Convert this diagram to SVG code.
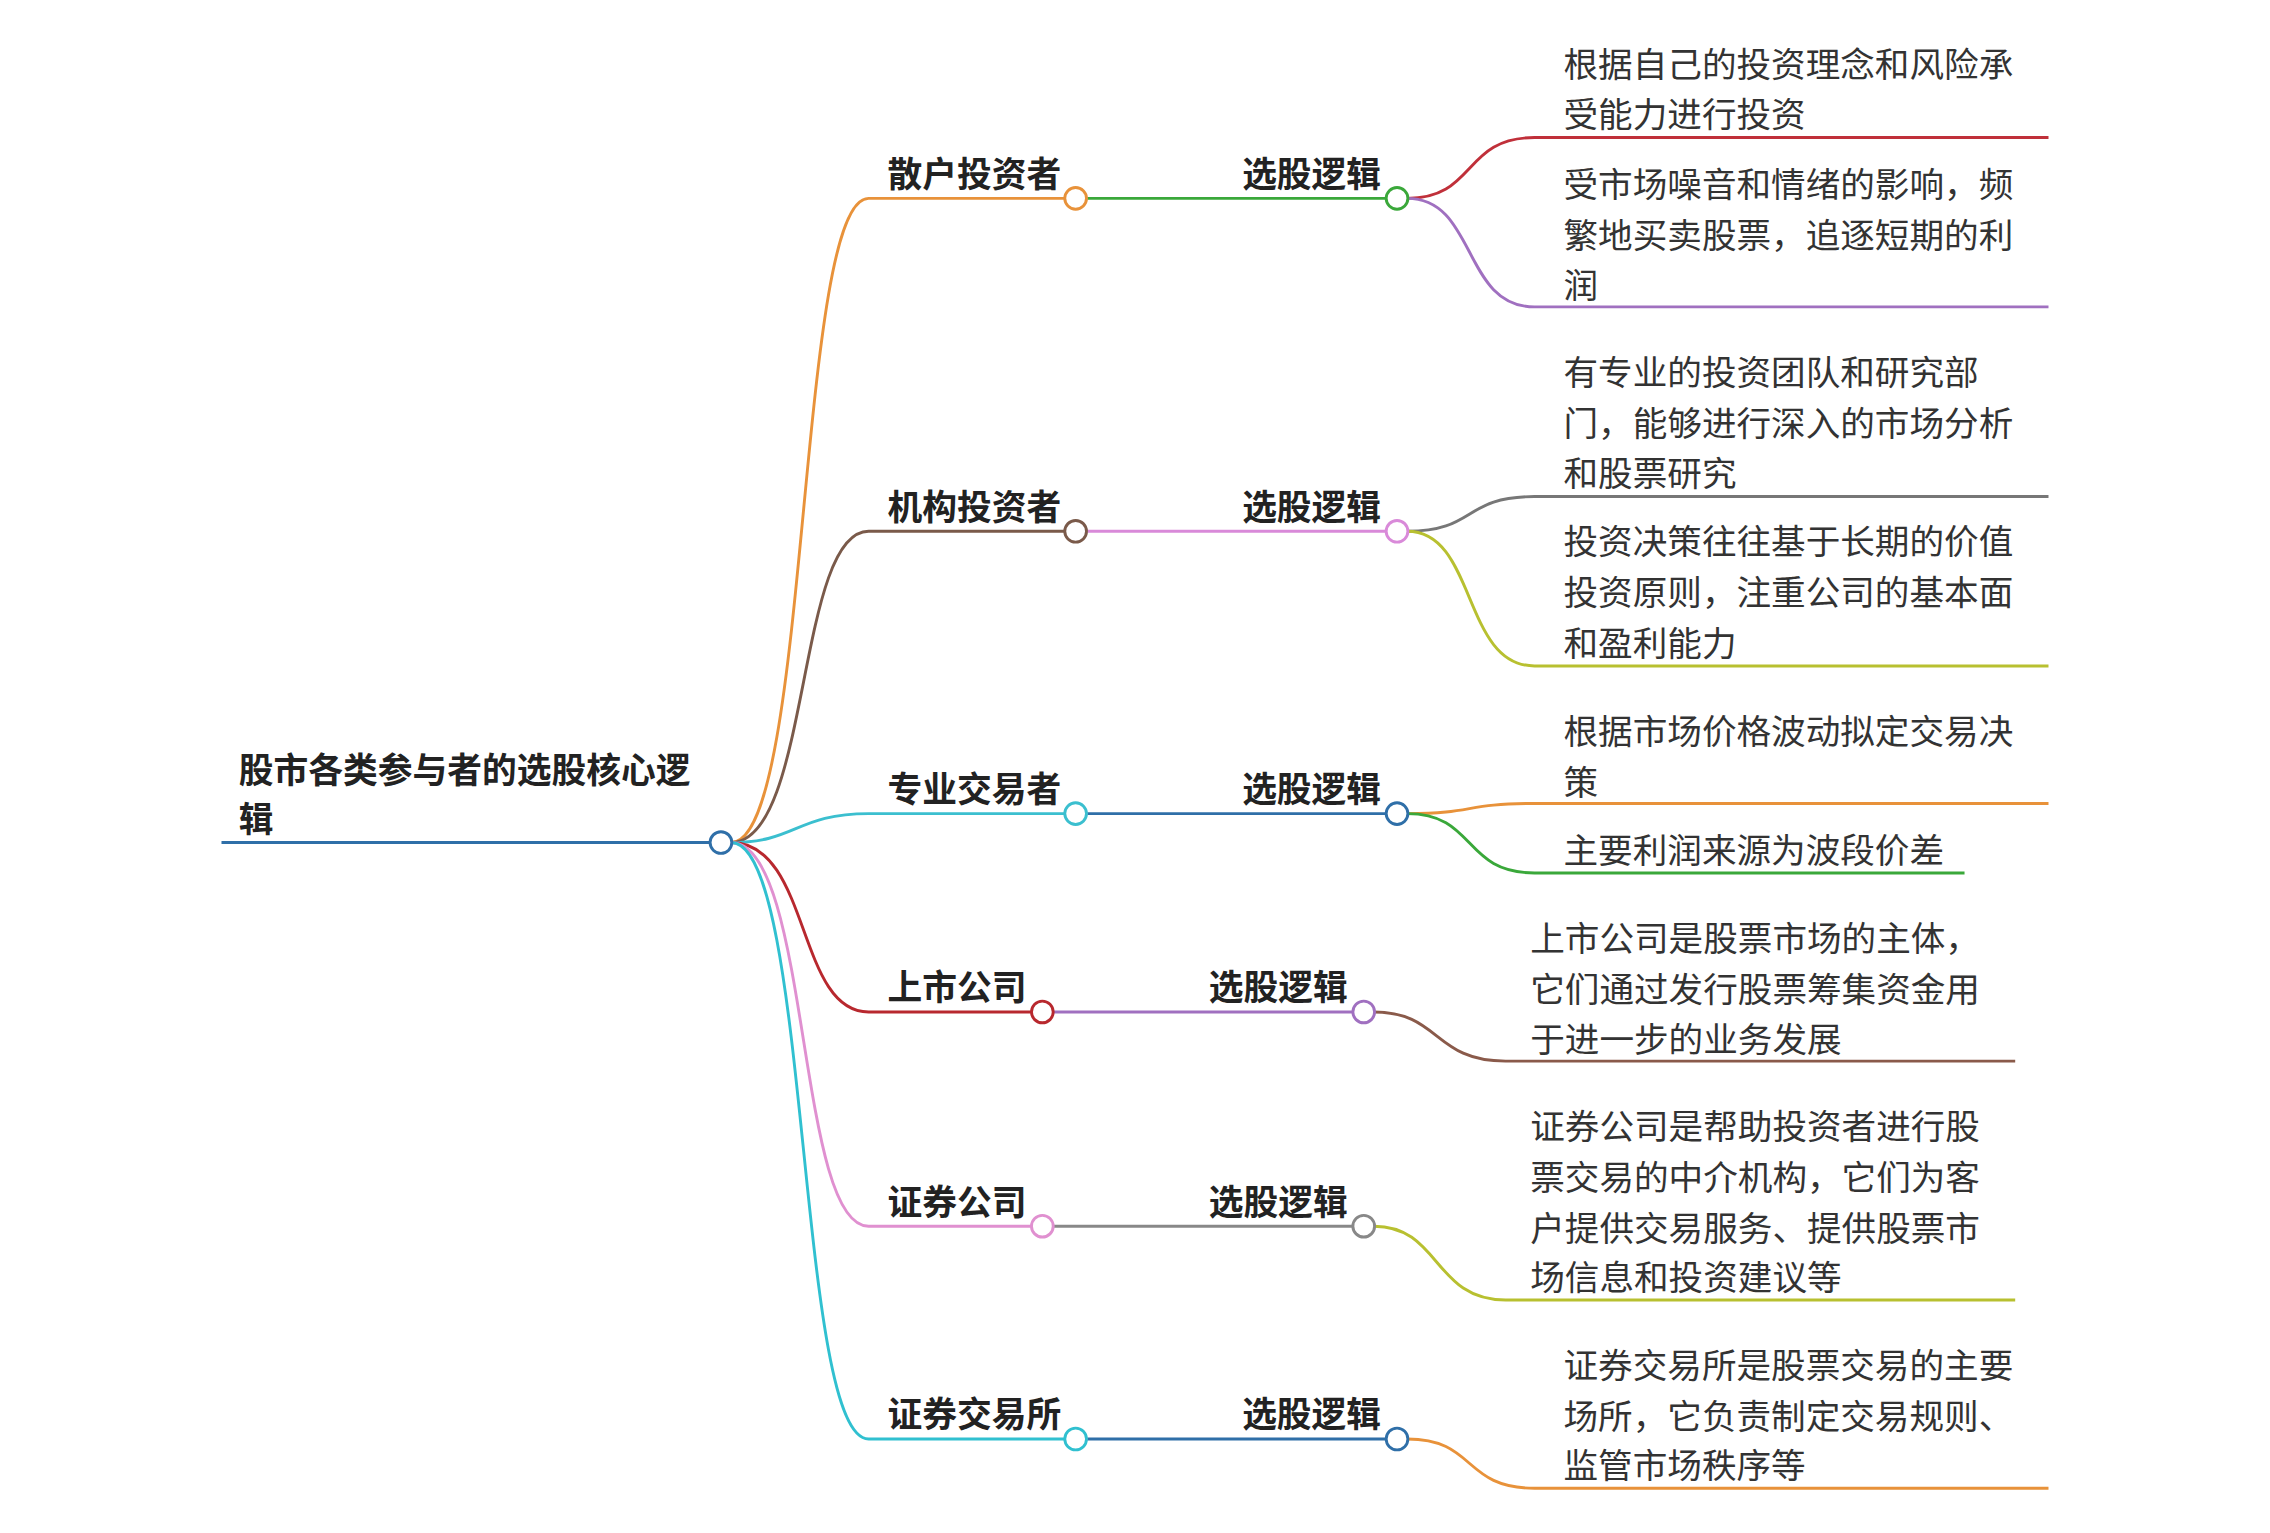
<svg xmlns="http://www.w3.org/2000/svg" width="2270" height="1533" viewBox="0 0 2270 1533">
<style>
text{font-family:"Noto Sans CJK SC","Noto Sans",sans-serif;fill:#222}
.b{font-weight:bold;font-size:24px}
.t{font-size:23.9px;fill:#333}
path,line{fill:none;stroke-width:2}
circle{fill:#fff;stroke-width:2}
</style>
<rect width="2270" height="1533" fill="#fff"/>
<g transform="scale(1.4477)">
<g id="connectors">
<line x1="153" y1="582" x2="491" y2="582" stroke="#2f6fa8"/>
<path d="M505,582 C560,582 550,137 600,137 H736" stroke="#e8923a"/>
<path d="M505,582 C560,582 550,367 600,367 H736" stroke="#7a5a4a"/>
<path d="M505,582 C550,582 550,562 600,562 H736" stroke="#3bbfcf"/>
<path d="M505,582 C560,582 550,699 600,699 H713" stroke="#b8282e"/>
<path d="M505,582 C560,582 550,847 600,847 H713" stroke="#e090d0"/>
<path d="M505,582 C560,582 550,994 600,994 H736" stroke="#30c0d0"/>
<line x1="751" y1="137" x2="958" y2="137" stroke="#3aa83a"/>
<line x1="751" y1="367" x2="958" y2="367" stroke="#d98ad9"/>
<line x1="751" y1="562" x2="958" y2="562" stroke="#2f6fa8"/>
<line x1="728" y1="699" x2="935" y2="699" stroke="#a070c0"/>
<line x1="728" y1="847" x2="935" y2="847" stroke="#888"/>
<line x1="751" y1="994" x2="958" y2="994" stroke="#2f6fa8"/>
<path d="M972,137 C1020,137 1010,95 1060,95 H1415" stroke="#c0303a"/>
<path d="M972,137 C1020,137 1010,212 1060,212 H1415" stroke="#a070c0"/>
<path d="M972,367 C1020,367 1010,343 1060,343 H1415" stroke="#777"/>
<path d="M972,367 C1020,367 1010,460 1060,460 H1415" stroke="#b8c030"/>
<path d="M972,562 C1020,562 1010,555 1060,555 H1415" stroke="#e8923a"/>
<path d="M972,562 C1020,562 1010,603 1060,603 H1357" stroke="#3aa83a"/>
<path d="M949,699 C995,699 990,733 1040,733 H1392" stroke="#8a5a4a"/>
<path d="M949,847 C995,847 990,898 1040,898 H1392" stroke="#b8c030"/>
<path d="M972,994 C1020,994 1010,1028 1060,1028 H1415" stroke="#e8923a"/>
</g>
<g id="root"><circle cx="498" cy="582" r="7.5" stroke="#2f6fa8"/>
<text class="b" x="165" y="541">股市各类参与者的选股核心逻</text><text class="b" x="165" y="575">辑</text></g>
<g id="n1"><circle cx="743" cy="137" r="7.5" stroke="#e8923a"/><text class="b" x="613" y="129">散户投资者</text></g>
<g id="n2"><circle cx="743" cy="367" r="7.5" stroke="#7a5a4a"/><text class="b" x="613" y="359">机构投资者</text></g>
<g id="n3"><circle cx="743" cy="562" r="7.5" stroke="#3bbfcf"/><text class="b" x="613" y="554">专业交易者</text></g>
<g id="n4"><circle cx="720" cy="699" r="7.5" stroke="#b8282e"/><text class="b" x="613" y="691">上市公司</text></g>
<g id="n5"><circle cx="720" cy="847" r="7.5" stroke="#e090d0"/><text class="b" x="613" y="839">证券公司</text></g>
<g id="n6"><circle cx="743" cy="994" r="7.5" stroke="#30c0d0"/><text class="b" x="613" y="986">证券交易所</text></g>
<g id="l1"><circle cx="965" cy="137" r="7.5" stroke="#3aa83a"/><text class="b" x="858" y="129">选股逻辑</text></g>
<g id="l2"><circle cx="965" cy="367" r="7.5" stroke="#d98ad9"/><text class="b" x="858" y="359">选股逻辑</text></g>
<g id="l3"><circle cx="965" cy="562" r="7.5" stroke="#2f6fa8"/><text class="b" x="858" y="554">选股逻辑</text></g>
<g id="l4"><circle cx="942" cy="699" r="7.5" stroke="#a070c0"/><text class="b" x="835" y="691">选股逻辑</text></g>
<g id="l5"><circle cx="942" cy="847" r="7.5" stroke="#888"/><text class="b" x="835" y="839">选股逻辑</text></g>
<g id="l6"><circle cx="965" cy="994" r="7.5" stroke="#2f6fa8"/><text class="b" x="858" y="986">选股逻辑</text></g>
<g id="a1"><text class="t" x="1080" y="53">根据自己的投资理念和风险承</text><text class="t" x="1080" y="88">受能力进行投资</text></g>
<g id="a2"><text class="t" x="1080" y="136">受市场噪音和情绪的影响，频</text><text class="t" x="1080" y="171">繁地买卖股票，追逐短期的利</text><text class="t" x="1080" y="206">润</text></g>
<g id="b1"><text class="t" x="1080" y="266">有专业的投资团队和研究部</text><text class="t" x="1080" y="301">门，能够进行深入的市场分析</text><text class="t" x="1080" y="336">和股票研究</text></g>
<g id="b2"><text class="t" x="1080" y="383">投资决策往往基于长期的价值</text><text class="t" x="1080" y="418">投资原则，注重公司的基本面</text><text class="t" x="1080" y="453">和盈利能力</text></g>
<g id="c1"><text class="t" x="1080" y="514">根据市场价格波动拟定交易决</text><text class="t" x="1080" y="549">策</text></g>
<g id="c2"><text class="t" x="1080" y="596">主要利润来源为波段价差</text></g>
<g id="d1"><text class="t" x="1057" y="657">上市公司是股票市场的主体，</text><text class="t" x="1057" y="692">它们通过发行股票筹集资金用</text><text class="t" x="1057" y="727">于进一步的业务发展</text></g>
<g id="e1"><text class="t" x="1057" y="787">证券公司是帮助投资者进行股</text><text class="t" x="1057" y="822">票交易的中介机构，它们为客</text><text class="t" x="1057" y="857">户提供交易服务、提供股票市</text><text class="t" x="1057" y="891">场信息和投资建议等</text></g>
<g id="f1"><text class="t" x="1080" y="952">证券交易所是股票交易的主要</text><text class="t" x="1080" y="987">场所，它负责制定交易规则、</text><text class="t" x="1080" y="1021">监管市场秩序等</text></g>
</g>
</svg>
